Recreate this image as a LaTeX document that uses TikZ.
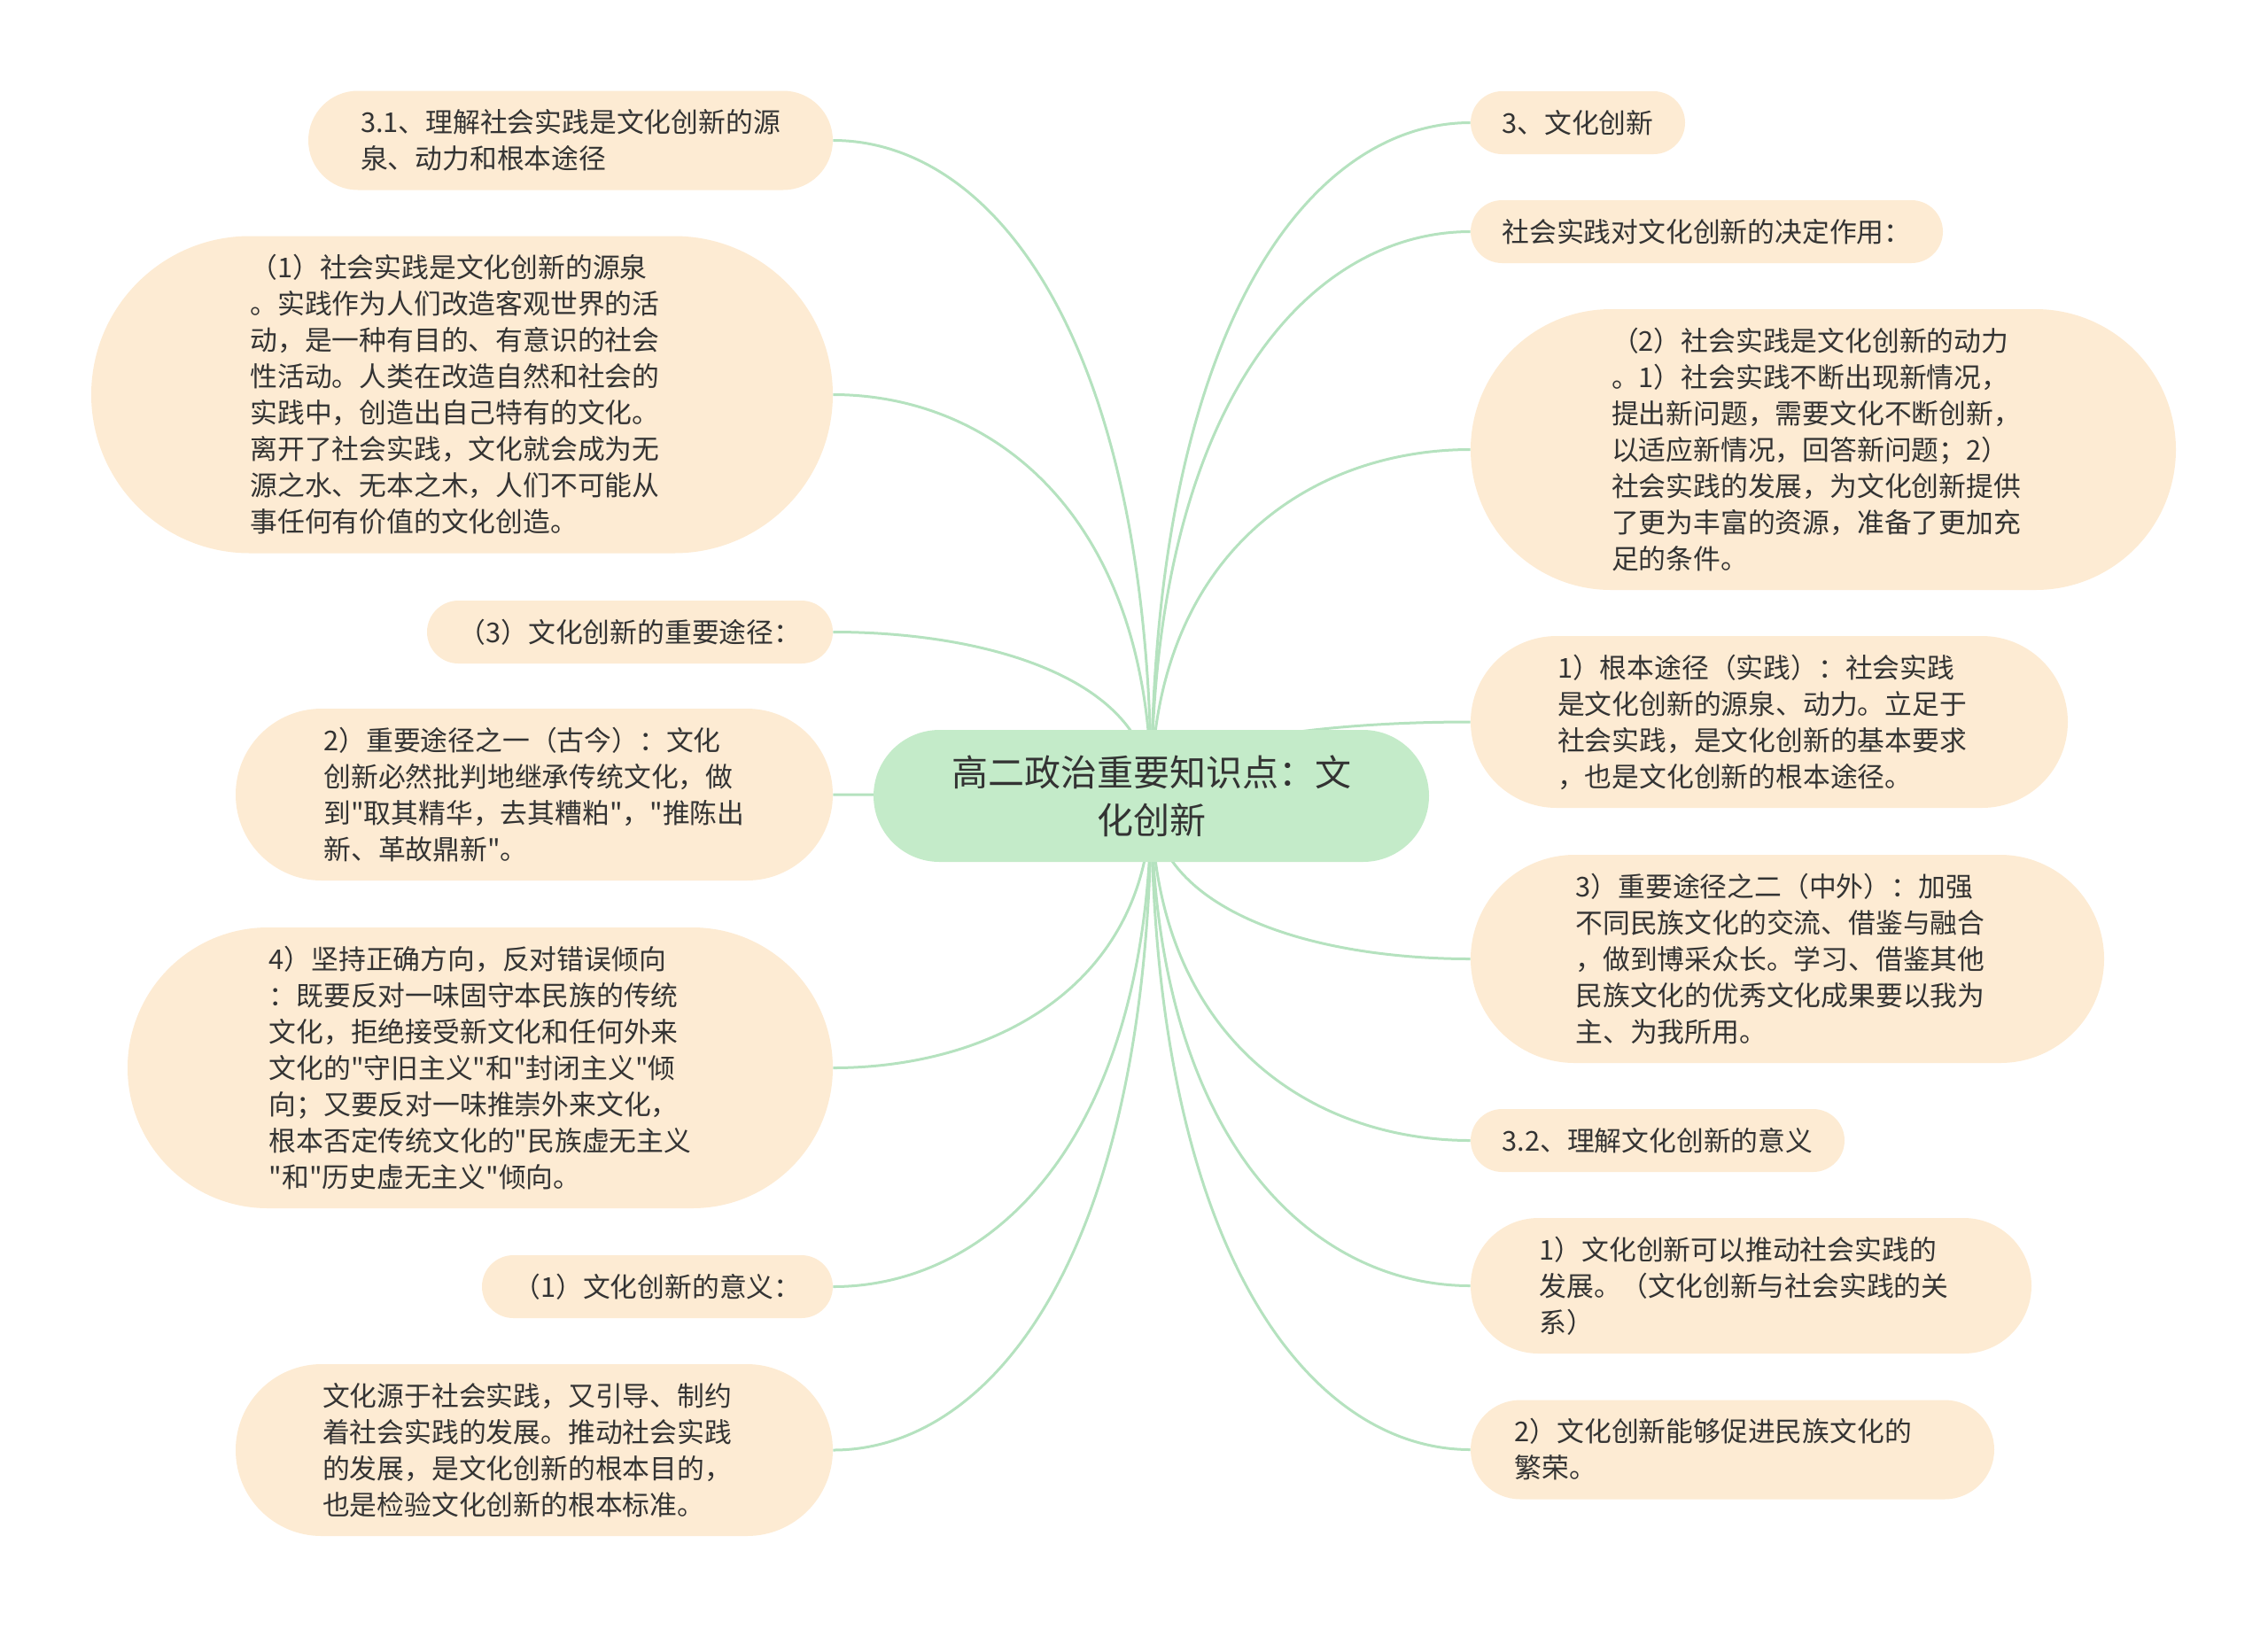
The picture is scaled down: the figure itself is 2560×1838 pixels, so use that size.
\documentclass[tikz,border=0pt]{standalone}
\usepackage{fontspec}
\newfontfamily\cjkfont{Noto Sans CJK SC}
\usetikzlibrary{calc,backgrounds}
\definecolor{leaffill}{HTML}{FDEBD3}
\definecolor{rootfill}{HTML}{C4EBC9}
\definecolor{linkcol}{HTML}{B5E2BF}
\definecolor{txtcol}{HTML}{333333}
\tikzset{
  leaf/.style={fill=leaffill, text=txtcol, inner sep=0pt, align=left,
    font=\cjkfont\fontsize{15.4pt}{20.5pt}\selectfont},
  wide/.style={text width=239pt},
  root/.style={fill=rootfill, text=txtcol, inner sep=0pt, align=center,
    font=\cjkfont\fontsize{20.5pt}{27pt}\selectfont},
  link/.style={draw=linkcol, line width=1.5pt},
}
\begin{document}
\begin{tikzpicture}[x=0.5pt,y=-0.5pt]
\useasboundingbox (0,0) rectangle (2560,1838);

% root
\node[root, minimum width=313.5pt, minimum height=74.5pt, rounded corners=37.25pt] (C) at (1299.5,898.5)
  {高二政治重要知识点：文\\化创新};

% left side
\node[leaf, minimum width=296pt, minimum height=56pt, rounded corners=28pt] (L1) at (644,158.5)
  {3.1、理解社会实践是文化创新的源\\泉、动力和根本途径};
\node[leaf, wide, minimum width=418.5pt, minimum height=179pt, rounded corners=89.5pt] (L2) at (521.5,445.5)
  {（1）社会实践是文化创新的源泉\\。实践作为人们改造客观世界的活\\动，是一种有目的、有意识的社会\\性活动。人类在改造自然和社会的\\实践中，创造出自己特有的文化。\\离开了社会实践，文化就会成为无\\源之水、无本之木，人们不可能从\\事任何有价值的文化创造。};
\node[leaf, minimum width=229pt, minimum height=35.5pt, rounded corners=17.75pt] (L3) at (711,713.5)
  {（3）文化创新的重要途径：};
\node[leaf, minimum width=337pt, minimum height=97pt, rounded corners=48.5pt] (L4) at (603,897)
  {2）重要途径之一（古今）：文化\\创新必然批判地继承传统文化，做\\到"取其精华，去其糟粕"，"推陈出\\新、革故鼎新"。};
\node[leaf, minimum width=398pt, minimum height=158.5pt, rounded corners=79.25pt] (L5) at (542,1205.5)
  {4）坚持正确方向，反对错误倾向\\：既要反对一味固守本民族的传统\\文化，拒绝接受新文化和任何外来\\文化的"守旧主义"和"封闭主义"倾\\向；又要反对一味推崇外来文化，\\根本否定传统文化的"民族虚无主义\\"和"历史虚无主义"倾向。};
\node[leaf, minimum width=198pt, minimum height=35.5pt, rounded corners=17.75pt] (L6) at (742,1452.5)
  {（1）文化创新的意义：};
\node[leaf, wide, minimum width=337pt, minimum height=97pt, rounded corners=48.5pt] (L7) at (603,1637)
  {文化源于社会实践，又引导、制约\\着社会实践的发展。推动社会实践\\的发展，是文化创新的根本目的，\\也是检验文化创新的根本标准。};

% right side
\node[leaf, minimum width=121pt, minimum height=35.5pt, rounded corners=17.75pt] (R1) at (1781,138.5)
  {3、文化创新};
\node[leaf, minimum width=266.5pt, minimum height=35.5pt, rounded corners=17.75pt] (R2) at (1926.5,261.5)
  {社会实践对文化创新的决定作用：};
\node[leaf, wide, minimum width=398pt, minimum height=158.5pt, rounded corners=79.25pt] (R3) at (2058,507.5)
  {（2）社会实践是文化创新的动力\\。1）社会实践不断出现新情况，\\提出新问题，需要文化不断创新，\\以适应新情况，回答新问题；2）\\社会实践的发展，为文化创新提供\\了更为丰富的资源，准备了更加充\\足的条件。};
\node[leaf, wide, minimum width=337pt, minimum height=97pt, rounded corners=48.5pt] (R4) at (1997,815)
  {1）根本途径（实践）：社会实践\\是文化创新的源泉、动力。立足于\\社会实践，是文化创新的基本要求\\，也是文化创新的根本途径。};
\node[leaf, wide, minimum width=357.5pt, minimum height=117.5pt, rounded corners=58.75pt] (R5) at (2017.5,1082.5)
  {3）重要途径之二（中外）：加强\\不同民族文化的交流、借鉴与融合\\，做到博采众长。学习、借鉴其他\\民族文化的优秀文化成果要以我为\\主、为我所用。};
\node[leaf, minimum width=211pt, minimum height=35.5pt, rounded corners=17.75pt] (R6) at (1871,1287.5)
  {3.2、理解文化创新的意义};
\node[leaf, wide, minimum width=316.5pt, minimum height=76.5pt, rounded corners=38.25pt] (R7) at (1976.5,1451.5)
  {1）文化创新可以推动社会实践的\\发展。（文化创新与社会实践的关\\系）};
\node[leaf, text width=246pt, minimum width=295.5pt, minimum height=56pt, rounded corners=28pt] (R8) at (1955.5,1636.5)
  {2）文化创新能够促进民族文化的\\繁荣。};

\begin{scope}[on background layer]
\foreach \n in {L1,L2,L3,L4,L5,L6,L7} {
  \draw[link] (C.center) .. controls ($(C.center)!0.7!(C.center |- \n.east)$)
    and ($(\n.east)!0.5!(\n.east -| C.center)$) .. (\n.east);
}
\foreach \n in {R1,R2,R3,R4,R5,R6,R7,R8} {
  \draw[link] (C.center) .. controls ($(C.center)!0.7!(C.center |- \n.west)$)
    and ($(\n.west)!0.5!(\n.west -| C.center)$) .. (\n.west);
}
\end{scope}
\end{tikzpicture}
\end{document}
